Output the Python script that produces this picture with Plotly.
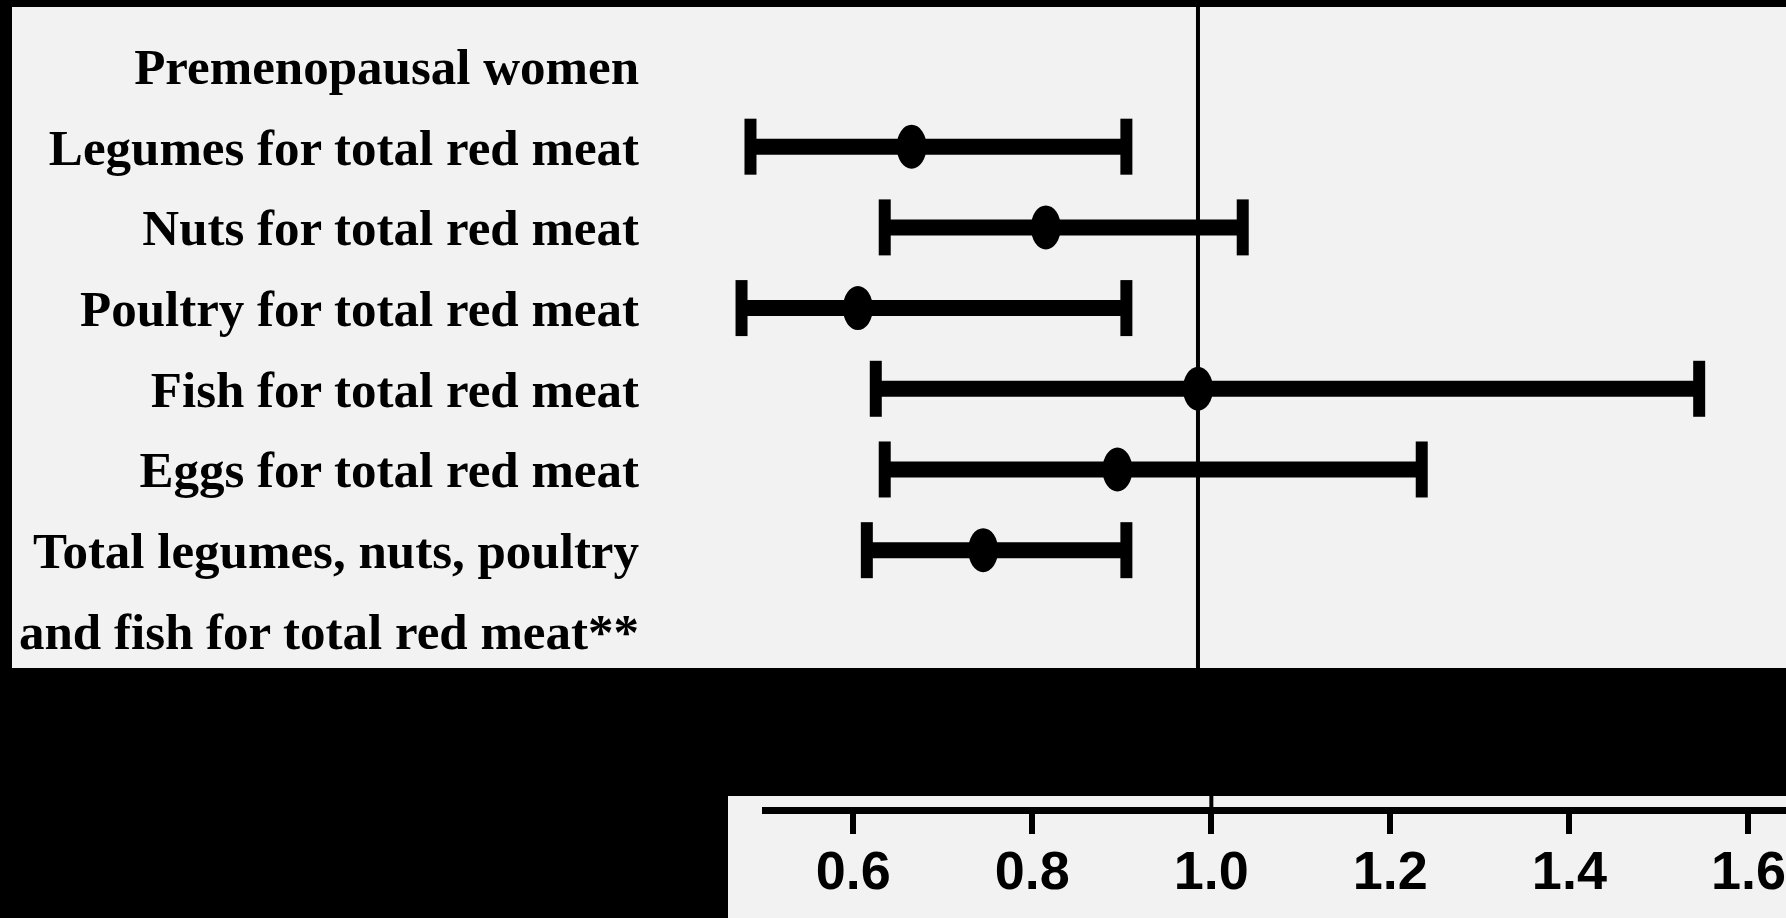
import plotly.graph_objects as go

W, H = 1786, 918

# Row labels of the forest plot (row index = position on the y axis)
labels = [
    "Premenopausal women",
    "Legumes for total red meat",
    "Nuts for total red meat",
    "Poultry for total red meat",
    "Fish for total red meat",
    "Eggs for total red meat",
    "Total legumes, nuts, poultry",
    "and fish for total red meat**",
]
label_rows = list(range(len(labels)))

# Substitution estimates: hazard ratio with 95% confidence interval
rows = [1, 2, 3, 4, 5, 6]
hr = [0.68, 0.83, 0.62, 1.00, 0.91, 0.76]
ci_low = [0.50, 0.65, 0.49, 0.64, 0.65, 0.63]
ci_high = [0.92, 1.05, 0.92, 1.56, 1.25, 0.92]

axis_ticks = [0.6, 0.8, 1.0, 1.2, 1.4, 1.6]
axis_ticktext = [f"{t:.1f}" for t in axis_ticks]

PANEL = "#f2f2f2"
INK = "black"


def fx(px):
    return px / W


def fy(px):
    return (H - px) / H


fig = go.Figure()

# CI bars
for r, lo, hi in zip(rows, ci_low, ci_high):
    fig.add_trace(go.Scatter(
        x=[lo, hi], y=[r, r], mode="lines",
        line=dict(color=INK, width=16),
        hoverinfo="skip", xaxis="x", yaxis="y",
    ))

# CI end caps
fig.add_trace(go.Scatter(
    x=ci_low + ci_high, y=rows + rows, mode="markers",
    marker=dict(symbol="line-ns", size=40, line=dict(color=INK, width=12)),
    hoverinfo="skip", xaxis="x", yaxis="y",
))

# Point estimates
fig.add_trace(go.Scatter(
    x=hr, y=rows, mode="markers",
    marker=dict(symbol="circle", size=28, color=INK),
    customdata=list(zip(ci_low, ci_high)),
    hovertemplate="HR %{x:.2f} (%{customdata[0]:.2f}-%{customdata[1]:.2f})<extra></extra>",
    xaxis="x", yaxis="y",
))

shapes = [
    # panel backgrounds
    dict(type="rect", xref="paper", yref="paper",
         x0=fx(12), x1=1, y0=fy(668), y1=fy(7),
         fillcolor=PANEL, line=dict(width=0), layer="below"),
    dict(type="rect", xref="paper", yref="paper",
         x0=fx(728), x1=1, y0=0, y1=fy(796),
         fillcolor=PANEL, line=dict(width=0), layer="below"),
    # line of no effect (HR = 1)
    dict(type="line", xref="x", yref="y domain", x0=1, x1=1, y0=0, y1=1,
         line=dict(color=INK, width=4), layer="below"),
    dict(type="line", xref="x2", yref="y2 domain", x0=1, x1=1, y0=0, y1=1,
         line=dict(color=INK, width=4), layer="below"),
]

# point estimates drawn as upright ellipses
for r, h in zip(rows, hr):
    shapes.append(dict(
        type="circle", xref="x", yref="y",
        xsizemode="pixel", ysizemode="pixel",
        xanchor=h, yanchor=r, x0=-15, x1=15, y0=-22, y1=22,
        fillcolor=INK, line=dict(width=0), layer="above",
    ))

fig.update_layout(
    width=W, height=H,
    margin=dict(l=0, r=0, t=0, b=0),
    paper_bgcolor=INK,
    plot_bgcolor=PANEL,
    showlegend=False,
    shapes=shapes,
    xaxis=dict(
        domain=[fx(660), 1], range=[0.3989, 1.657],
        visible=False, anchor="y",
    ),
    yaxis=dict(
        domain=[fy(668), fy(7)], range=[7.46, -0.731], anchor="x",
        tickmode="array", tickvals=label_rows, ticktext=labels,
        ticks="", showgrid=False, zeroline=False, showline=False,
        ticklabelstandoff=20,
        tickfont=dict(family="Liberation Serif", size=51, color=INK, weight="bold"),
    ),
    xaxis2=dict(
        domain=[fx(762), 1], range=[0.498, 1.642], anchor="y2",
        tickmode="array", tickvals=axis_ticks, ticktext=axis_ticktext,
        ticks="outside", ticklen=20, tickwidth=6, tickcolor=INK,
        showline=True, linewidth=7, linecolor=INK,
        showgrid=False, zeroline=False,
        ticklabelstandoff=-10,
        tickfont=dict(family="Liberation Sans", size=54, color=INK, weight="bold"),
    ),
    yaxis2=dict(
        domain=[fy(807), fy(796)], range=[0, 1], anchor="x2", visible=False,
    ),
)

fig.write_html("out.html")
